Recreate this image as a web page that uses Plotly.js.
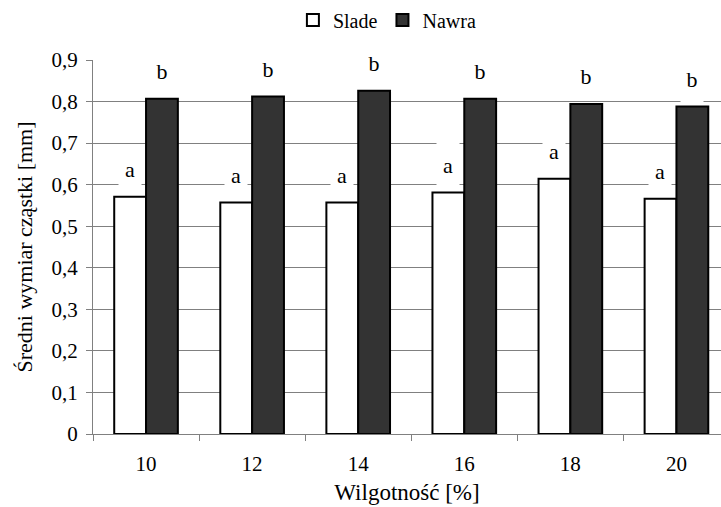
<!DOCTYPE html>
<html>
<head>
<meta charset="utf-8">
<script src="https://cdn.plot.ly/plotly-3.0.1.min.js"></script>
<style>html,body{margin:0;padding:0;background:#fff;}</style>
</head>
<body>
<div id="chart" style="width:721px;height:507px;"></div>
<script>
var categories = ['10', '12', '14', '16', '18', '20'];
var sladeValues = [0.571, 0.557, 0.557, 0.581, 0.614, 0.566];
var nawraValues = [0.807, 0.812, 0.826, 0.807, 0.794, 0.788];
var sladeLabels = ['a', 'a', 'a', 'a', 'a', 'a'];
var nawraLabels = ['b', 'b', 'b', 'b', 'b', 'b'];
var seriesNames = ['Slade', 'Nawra'];

var FONT = 'Liberation Serif';

var traces = [
  {
    type: 'bar', name: seriesNames[0], x: categories, y: sladeValues,
    marker: {color: '#ffffff', line: {color: '#000000', width: 2}},
    hoverinfo: 'skip'
  },
  {
    type: 'bar', name: seriesNames[1], x: categories, y: nawraValues,
    marker: {color: '#333333', line: {color: '#000000', width: 2}},
    hoverinfo: 'skip'
  }
];

var annotations = [];
function addLabels(values, labels, shift) {
  for (var i = 0; i < categories.length; i++) {
    annotations.push({
      x: i, y: values[i], xref: 'x', yref: 'y',
      text: labels[i], showarrow: false,
      xanchor: 'center', yanchor: 'bottom',
      xshift: shift, yshift: 4,
      width: 22, height: 46, valign: 'middle',
      bgcolor: '#ffffff', borderpad: 0,
      font: {family: FONT, size: 22, color: '#000000'}
    });
  }
}
addLabels(sladeValues, sladeLabels, -16);
addLabels(nawraValues, nawraLabels, 16);

var layout = {
  width: 721, height: 507,
  margin: {l: 93, r: 0, t: 60, b: 73},
  paper_bgcolor: '#ffffff', plot_bgcolor: '#ffffff',
  font: {family: FONT, size: 21, color: '#000000'},
  separators: ', ',
  barmode: 'group', bargap: 0.4, bargroupgap: 0,
  showlegend: true,
  legend: {
    orientation: 'h', x: 0.468, xanchor: 'center', y: 1.107, yanchor: 'middle',
    font: {family: FONT, size: 20, color: '#000000'},
    bgcolor: 'rgba(0,0,0,0)'
  },
  xaxis: {
    type: 'category', range: [-0.5, 5.42],
    tickson: 'boundaries', ticks: 'outside', ticklen: 6, tickcolor: '#808080', tickwidth: 1,
    showline: true, linecolor: '#808080', linewidth: 1,
    showgrid: false, zeroline: false,
    ticklabelstandoff: 11,
    tickfont: {family: FONT, size: 21, color: '#000000'},
    title: {text: 'Wilgotność [%]', font: {family: FONT, size: 23, color: '#000000'}, standoff: 8}
  },
  yaxis: {
    range: [0, 0.9], dtick: 0.1, tick0: 0, tickformat: '.1~f',
    ticks: 'outside', ticklen: 6, tickcolor: '#808080', tickwidth: 1,
    showline: true, linecolor: '#808080', linewidth: 1,
    showgrid: true, gridcolor: '#808080', gridwidth: 1,
    zeroline: false,
    ticklabelstandoff: 4,
    tickfont: {family: FONT, size: 21, color: '#000000'},
    title: {text: 'Średni wymiar cząstki [mm]', font: {family: FONT, size: 22, color: '#000000'}, standoff: 12}
  },
  annotations: annotations
};

Plotly.newPlot('chart', traces, layout, {displayModeBar: false, staticPlot: true});
</script>
</body>
</html>
